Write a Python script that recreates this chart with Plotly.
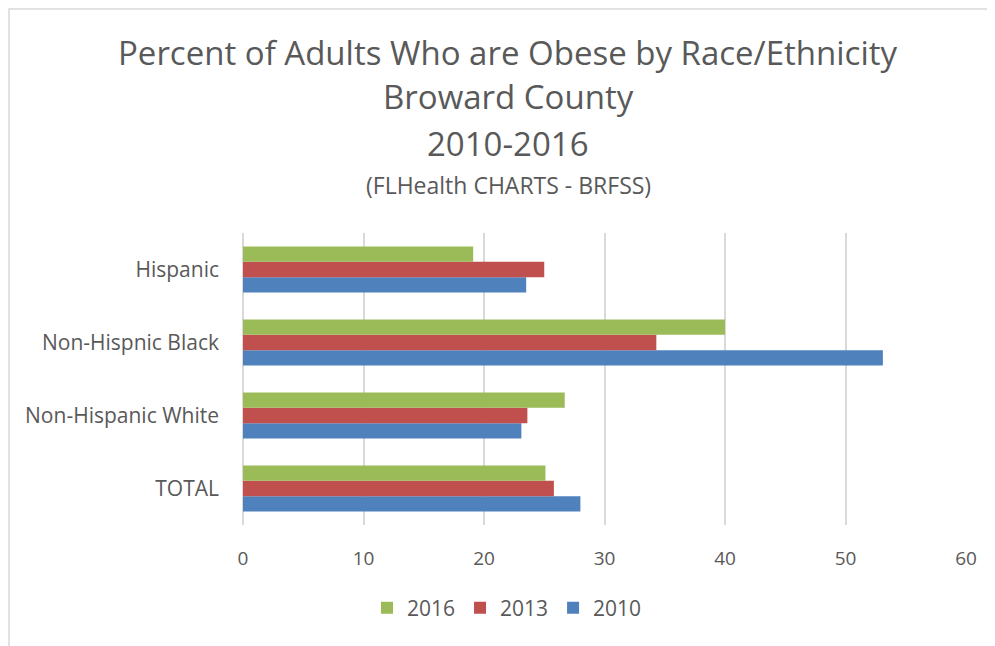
import plotly.graph_objects as go

categories = ["TOTAL", "Non-Hispanic White", "Non-Hispnic Black", "Hispanic"]
years = ["2010", "2013", "2016"]
values_2010 = [28.0, 23.1, 53.1, 23.5]
values_2013 = [25.8, 23.6, 34.3, 25.0]
values_2016 = [25.1, 26.7, 40.0, 19.1]
colors = {"2010": "#4f81bd", "2013": "#c0504d", "2016": "#9bbb59"}
series = {"2010": values_2010, "2013": values_2013, "2016": values_2016}

FONT = "Open Sans"
GREY = "#595959"

fig = go.Figure()
for yr in years:
    fig.add_trace(go.Bar(
        y=categories, x=series[yr], name=yr, orientation="h",
        marker=dict(color=colors[yr], line=dict(width=0)),
    ))

# page body offset of 8px compensated
OFF = 8
W, H = 995, 646
L = 243 - OFF
T = 233 - OFF
R = W - (966 - OFF)
B = H - (525 - OFF)
pw, ph = W - L - R, H - T - B

def px_x(p):
    return (p - OFF - L) / pw

def px_y(p):
    return (H - B - (p - OFF)) / ph

titles = [
    ("Percent of Adults Who are Obese by Race/Ethnicity", 52, 33),
    ("Broward County", 97, 33),
    ("2010-2016", 143, 33),
    ("(FLHealth CHARTS - BRFSS)", 185, 23),
]
annotations = []
for txt, yc, sz in titles:
    annotations.append(dict(
        text=txt, xref="paper", yref="paper", x=px_x(508), y=px_y(yc),
        xanchor="center", yanchor="middle", showarrow=False,
        font=dict(family=FONT, size=sz, color=GREY),
    ))

fig.update_layout(
    width=W, height=H,
    margin=dict(l=L, r=R, t=T, b=B, pad=0),
    paper_bgcolor="white", plot_bgcolor="white",
    barmode="group", bargap=0.37, bargroupgap=0,
    font=dict(family=FONT, color=GREY, size=19),
    xaxis=dict(range=[0, 60], dtick=10, showgrid=True, gridcolor="#d9d9d9",
               gridwidth=1.5, zeroline=True, zerolinecolor="#d9d9d9",
               zerolinewidth=1.5, showline=False, ticks="",
               tickfont=dict(size=19, color=GREY), ticklabelstandoff=20),
    yaxis=dict(showgrid=False, showline=False, ticks="",
               tickfont=dict(size=21, color=GREY), ticklabelstandoff=23),
    legend=dict(orientation="h", traceorder="reversed", x=px_x(507), y=px_y(608),
                xanchor="center", yanchor="middle",
                font=dict(size=21, color=GREY), itemwidth=30),
    annotations=annotations,
    shapes=[dict(type="rect", xref="paper", yref="paper",
                 x0=px_x(9), x1=px_x(1010), y0=px_y(660), y1=px_y(9),
                 line=dict(color="#d9d9d9", width=1.5), fillcolor="rgba(0,0,0,0)",
                 layer="below")],
)

fig.write_html("out.html")
